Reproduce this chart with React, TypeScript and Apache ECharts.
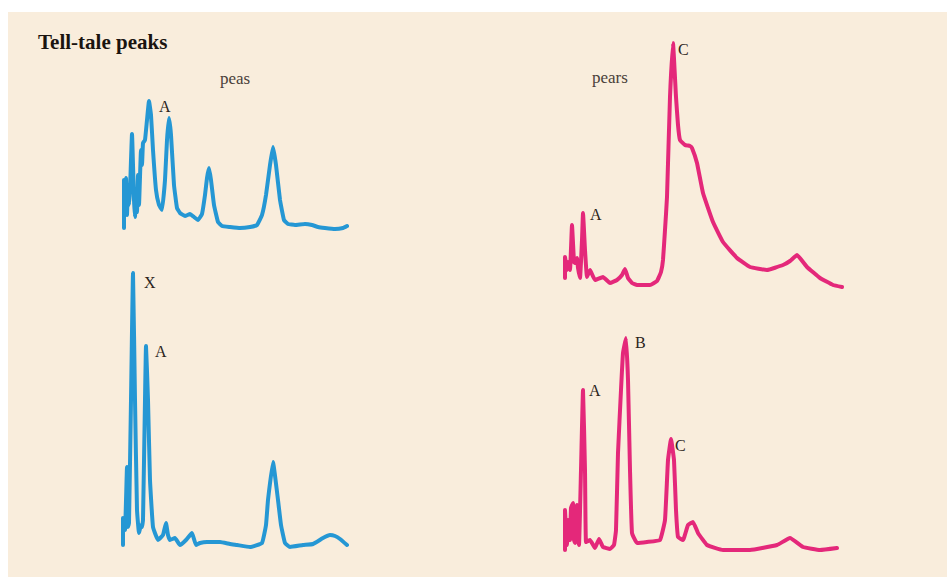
import React, { useEffect, useRef } from "react";
import * as echarts from "echarts";

// [retention, response] pairs for each chromatogram
const peasTop: number[][] = [
  [2, 2], [2, 50], [3, 30], [4, 52], [5, 15], [6, 45], [7, 25], [8, 40], [10, 96], [12, 30], [13, 13], [14, 40],
  [15, 18], [16, 55], [17, 25], [19, 80], [20, 65], [21, 87], [23, 90], [25, 110], [27, 129], [29, 115], [31, 80],
  [34, 40], [37, 25], [40, 20], [43, 50], [45, 90], [47, 112], [49, 95], [52, 45], [55, 22], [58, 17], [63, 14],
  [68, 16], [72, 13], [76, 10], [80, 16], [83, 35], [85, 52], [87, 62], [89, 50], [92, 25], [96, 8], [100, 4],
  [108, 3], [118, 2], [128, 3], [135, 5], [140, 15], [144, 35], [148, 65], [151, 83], [154, 65], [158, 30],
  [162, 10], [166, 6], [173, 5], [183, 6], [190, 5], [196, 3], [203, 2], [213, 1], [221, 2], [225, 4],
];
const peasBottom: number[][] = [
  [1, 3], [1, 30], [3, 18], [5, 81], [6, 21], [7, 25], [9, 148], [11, 275], [13, 148], [15, 38], [17, 15], [19, 23],
  [20, 21], [21, 28], [23, 148], [24, 202], [26, 148], [28, 68], [31, 21], [36, 8], [41, 13], [44, 25], [46, 13],
  [48, 8], [53, 10], [58, 3], [64, 8], [70, 15], [74, 3], [78, 5], [85, 6], [98, 6], [108, 4], [115, 3], [128, 1],
  [140, 5], [144, 23], [146, 48], [151, 86], [156, 48], [159, 23], [163, 5], [168, 1], [181, 3], [191, 4],
  [201, 10], [208, 13], [213, 12], [218, 9], [225, 3],
];
const pearsTop: number[][] = [
  [2, 10], [2, 31], [4, 18], [5, 26], [7, 18], [9, 63], [11, 26], [12, 25], [14, 30], [15, 20], [17, 10], [19, 48],
  [20, 75], [22, 38], [24, 11], [27, 18], [32, 8], [40, 11], [47, 5], [54, 8], [59, 13], [62, 19], [65, 10], [69, 5],
  [74, 3], [87, 3], [94, 7], [98, 16], [100, 28], [102, 58], [104, 91], [107, 191], [110, 245], [113, 191],
  [115, 163], [117, 148], [122, 143], [127, 142], [129, 140], [134, 125], [140, 95], [150, 66], [160, 46],
  [174, 30], [187, 21], [204, 18], [220, 23], [227, 27], [234, 33], [244, 21], [257, 10], [270, 3], [279, 1],
];
const pearsBottom: number[][] = [
  [2, 2], [2, 42], [4, 7], [5, 32], [7, 12], [8, 44], [10, 49], [11, 12], [12, 9], [14, 47], [15, 12], [16, 7],
  [18, 82], [20, 162], [22, 82], [23, 10], [27, 12], [32, 4], [36, 13], [40, 5], [47, 3], [51, 7], [53, 22],
  [55, 99], [58, 162], [60, 199], [63, 214], [65, 172], [67, 82], [69, 19], [74, 9], [84, 10], [97, 12], [102, 32],
  [105, 92], [108, 113], [111, 92], [113, 42], [115, 15], [120, 12], [125, 27], [130, 30], [135, 19], [144, 7],
  [160, 2], [187, 2], [214, 7], [227, 14], [240, 5], [257, 2], [274, 4],
];

const titleText = "Tell-tale peaks";
const panelTitles = ["peas", "pears"];
const peakLabels = ["A", "X", "A", "C", "A", "B", "A", "C"];

const BLUE = "#2597d4";
const PINK = "#e4287a";
const BG = "#f9eddc";
const INK = "#2b2420";
const SERIF = "'Liberation Serif', 'DejaVu Serif', serif";

export default function App() {
  const ref = useRef<HTMLDivElement>(null);
  useEffect(() => {
    document.body.style.margin = "0";
    if (!ref.current) return;
    const chart = echarts.init(ref.current, undefined, { renderer: "svg" });

    const panels = [
      { data: peasTop, color: BLUE, left: 122, top: 100, w: 226, h: 130 },
      { data: peasBottom, color: BLUE, left: 122, top: 272, w: 226, h: 276 },
      { data: pearsTop, color: PINK, left: 563, top: 42, w: 280, h: 246 },
      { data: pearsBottom, color: PINK, left: 563, top: 337, w: 276, h: 215 },
    ];

    const grid = panels.map((p) => ({ left: p.left, top: p.top, width: p.w, height: p.h }));
    const xAxis = panels.map((p, i) => ({
      type: "value", gridIndex: i, min: 0, max: p.w, show: false,
    }));
    const yAxis = panels.map((p, i) => ({
      type: "value", gridIndex: i, min: 0, max: p.h, show: false,
    }));
    const series = panels.map((p, i) => ({
      type: "line", xAxisIndex: i, yAxisIndex: i, data: p.data, symbol: "none",
      smooth: 0.1, lineStyle: { color: p.color, width: 4, join: "round", cap: "round" },
    }));

    const labelPos = [
      [159, 98], [144, 274], [155, 343], [678, 41], [590, 206], [635, 334], [589, 382], [675, 437],
    ];
    const labelTexts = peakLabels.map((t, i) => ({
      type: "text", left: labelPos[i][0], top: labelPos[i][1],
      style: { text: t, font: `16px ${SERIF}`, fill: INK },
    }));

    chart.setOption({
      animation: false,
      backgroundColor: "#ffffff",
      grid, xAxis, yAxis, series,
      graphic: [
        { type: "rect", left: 8, top: 12, z: -10, shape: { width: 939, height: 565 }, style: { fill: BG } },
        { type: "text", left: 38, top: 31, style: { text: titleText, font: `bold 21px ${SERIF}`, fill: "#1a1410" } },
        { type: "text", left: 220, top: 70, style: { text: panelTitles[0], font: `17px ${SERIF}`, fill: "#4a403a" } },
        { type: "text", left: 592, top: 69, style: { text: panelTitles[1], font: `17px ${SERIF}`, fill: "#4a403a" } },
        ...labelTexts,
      ],
    });
    return () => chart.dispose();
  }, []);
  return <div ref={ref} style={{ width: 947, height: 577 }} />;
}
